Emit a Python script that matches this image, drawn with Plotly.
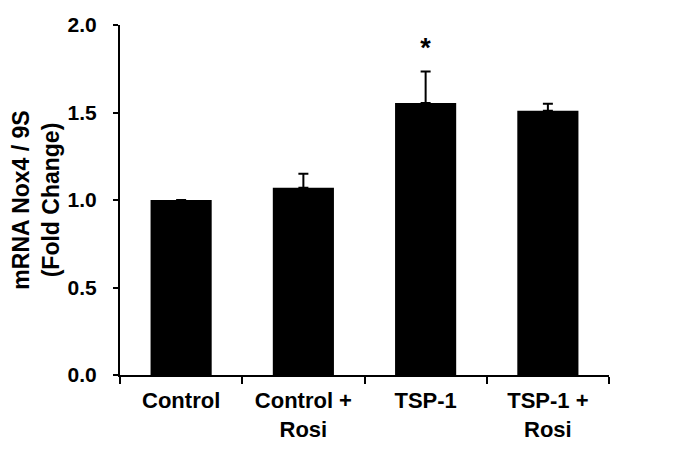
import plotly.graph_objects as go

groups = ["Control", "Control +<br>Rosi", "TSP-1", "TSP-1 +<br>Rosi"]
means = [1.00, 1.07, 1.555, 1.51]
errors = [None, 0.08, 0.18, 0.04]
marks = ["", "", "*", ""]

FONT = "Liberation Sans, Arial, sans-serif"

fig = go.Figure()
fig.add_trace(go.Bar(
    x=groups, y=means,
    marker=dict(color="black", line=dict(width=0)),
    error_y=dict(type="data", array=errors, arrayminus=[0] * len(errors),
                 symmetric=False, color="black", thickness=2, width=5),
    showlegend=False,
))
# significance star above the error bar
fig.add_trace(go.Scatter(
    x=groups, y=[m + (e or 0) + 0.12 for m, e in zip(means, errors)],
    mode="text", text=marks,
    textfont=dict(family=FONT, size=27, color="black", weight="bold"),
    showlegend=False, hoverinfo="skip",
))

fig.update_xaxes(
    type="category", range=[-0.5, 3.5], automargin=False,
    showline=True, linecolor="black", linewidth=2,
    ticks="outside", tickson="boundaries", ticklen=7, tickwidth=2, tickcolor="black",
    tickfont=dict(family=FONT, size=22, color="black", weight="bold"),
    ticklabelstandoff=5, showgrid=False, zeroline=False,
)
fig.update_yaxes(
    range=[0, 2.0], dtick=0.5, tickformat=".1f", automargin=False,
    showline=True, linecolor="black", linewidth=2,
    ticks="outside", ticklen=5, tickwidth=2, tickcolor="black",
    tickfont=dict(family=FONT, size=21, color="black", weight="bold"),
    ticklabelstandoff=12, showgrid=False, zeroline=False,
    title=dict(text="mRNA Nox4 / 9S<br>(Fold Change)", standoff=3,
               font=dict(family=FONT, size=23, color="black", weight="bold")),
)
# page body adds an 8px offset, so margins are trimmed by that much
fig.update_layout(
    width=673, height=458,
    bargap=0.5,
    plot_bgcolor="white", paper_bgcolor="white",
    margin=dict(l=112, r=72, t=17, b=91),
)
fig.write_html("out.html")
